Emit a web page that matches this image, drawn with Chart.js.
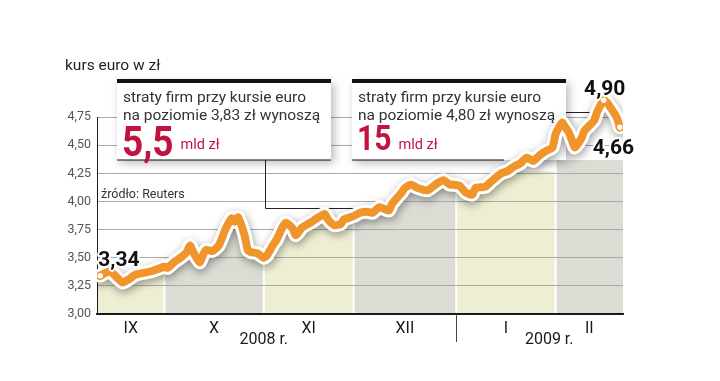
<!DOCTYPE html>
<html lang="pl">
<head>
<meta charset="utf-8">
<title>kurs euro w zł</title>
<script src="https://cdn.jsdelivr.net/npm/chart.js@4.4.1/dist/chart.umd.min.js"></script>
<style>
  html, body { margin: 0; padding: 0; background: #fff; }
  canvas { display: block; }
</style>
</head>
<body>
<canvas id="euro-chart" width="720" height="381"></canvas>
<script>
// ── Data ─────────────────────────────────────────────────────────────────────

// days counted from 10 Sep 2008
const DAYS = [
  1, 4, 6, 8, 10, 12, 17, 21, 22, 24, 26, 28, 29, 30, 32, 33, 34, 36, 38, 40,
  42, 43, 44, 46, 47, 48, 50, 52, 53, 55, 56, 58, 59, 61, 62, 64, 67, 68, 71, 72,
  74, 76, 77, 80, 82, 84, 86, 88, 91, 92, 95, 96, 98, 100, 103, 106, 108, 110, 111, 113,
  115, 117, 118, 121, 123, 126, 128, 130, 132, 134, 136, 138, 140, 142, 143, 145, 146, 147, 148, 149,
  151, 152, 153, 155, 156, 158, 159, 160, 162, 163,
];

const EUR_PLN = [
  3.34, 3.38, 3.33, 3.28, 3.31, 3.35, 3.38, 3.42, 3.41, 3.46, 3.50, 3.55, 3.61, 3.55, 3.46, 3.52, 3.57, 3.56, 3.61, 3.75,
  3.85, 3.82, 3.86, 3.70, 3.57, 3.55, 3.54, 3.50, 3.52, 3.62, 3.66, 3.78, 3.81, 3.76, 3.70, 3.77, 3.82, 3.84, 3.89, 3.84,
  3.79, 3.80, 3.84, 3.87, 3.90, 3.91, 3.90, 3.95, 3.92, 3.98, 4.08, 4.12, 4.15, 4.12, 4.10, 4.16, 4.19, 4.15, 4.15, 4.14,
  4.08, 4.06, 4.12, 4.13, 4.18, 4.25, 4.27, 4.31, 4.34, 4.39, 4.36, 4.41, 4.45, 4.48, 4.60, 4.70, 4.66, 4.62, 4.55, 4.48,
  4.56, 4.63, 4.66, 4.72, 4.80, 4.90, 4.88, 4.84, 4.75, 4.66,
];

const MONTH_LABELS = ['IX', 'X', 'XI', 'XII', 'I', 'II'];
const MONTH_EDGES  = [0, 21, 52, 80, 112, 143, 164];
const BAND_CAPS    = [5, 5, 5, 5, 4.27, 4.37];   // band fill never goes above these

const YEAR_LABELS  = ['2008 r.', '2009 r.'];
const YEAR_POS     = [52, 141];
const YEAR_SPLIT   = 112;

const Y_MIN = 3.0, Y_MAX = 5.0, Y_STEP = 0.25, Y_TOP_TICK = 4.75;

const CALLOUTS = [
  { lines: ['straty firm przy kursie euro', 'na poziomie 3,83 zł wynoszą'], big: '5,5', unit: 'mld zł' },
  { lines: ['straty firm przy kursie euro', 'na poziomie 4,80 zł wynoszą'], big: '15',  unit: 'mld zł' },
];

// ── Colours ──────────────────────────────────────────────────────────────────

const ORANGE  = '#f0952b';
const CRIMSON = '#c2133f';
const BANDS   = ['#eeeed3', '#dcdcd5'];
const GRID    = '#a9a9a9';
const INK     = '#1a1a1a';

const FONT = 'Roboto, "Noto Sans", sans-serif';

// ── Helpers ──────────────────────────────────────────────────────────────────

const fmt = v => v.toFixed(2).replace('.', ',');
const peakIdx = EUR_PLN.indexOf(Math.max(...EUR_PLN));
const lastIdx = EUR_PLN.length - 1;
const markIdx = [0, peakIdx, lastIdx];

function textOutlined(ctx, str, x, y) {
  ctx.lineWidth = 4;
  ctx.strokeStyle = '#fff';
  ctx.lineJoin = 'round';
  ctx.strokeText(str, x, y);
  ctx.fillText(str, x, y);
}

// ── Plugins ──────────────────────────────────────────────────────────────────

// month bands filled below the line, under the grid
const bandsPlugin = {
  id: 'bands',
  beforeDraw(chart) {
    const { ctx, chartArea: a, scales: { x, y } } = chart;
    const pts = chart.getDatasetMeta(0).data;
    if (!pts.length) return;
    for (let i = 0; i < MONTH_EDGES.length - 1; i++) {
      const x0 = x.getPixelForValue(MONTH_EDGES[i]) + (i > 0 ? 1 : 0);
      const x1 = x.getPixelForValue(MONTH_EDGES[i + 1]) - (i < MONTH_EDGES.length - 2 ? 1 : 0);
      const top = y.getPixelForValue(BAND_CAPS[i]);
      ctx.save();
      ctx.beginPath();
      ctx.rect(x0, top, x1 - x0, a.bottom - top);
      ctx.clip();
      ctx.beginPath();
      ctx.moveTo(a.left, a.bottom);
      ctx.lineTo(a.left, pts[0].y);
      pts.forEach(p => ctx.lineTo(p.x, p.y));
      ctx.lineTo(a.right, pts[pts.length - 1].y);
      ctx.lineTo(a.right, a.bottom);
      ctx.closePath();
      ctx.fillStyle = BANDS[i % 2];
      ctx.fill();
      ctx.restore();
    }
  },
};

// callout boxes, axis line, captions (above grid, below the line)
const decorPlugin = {
  id: 'decor',
  beforeDatasetsDraw(chart) {
    const { ctx, chartArea: a, scales: { x, y } } = chart;
    ctx.save();

    // y axis line up to the last tick
    ctx.strokeStyle = INK;
    ctx.lineWidth = 1;
    ctx.beginPath();
    ctx.moveTo(a.left + 0.5, y.getPixelForValue(Y_TOP_TICK));
    ctx.lineTo(a.left + 0.5, a.bottom);
    ctx.stroke();

    // year divider + year captions
    const xs = Math.round(x.getPixelForValue(YEAR_SPLIT)) + 0.5;
    ctx.strokeStyle = '#444';
    ctx.beginPath();
    ctx.moveTo(xs, a.bottom);
    ctx.lineTo(xs, a.bottom + 28);
    ctx.stroke();

    ctx.fillStyle = INK;
    ctx.font = `16px ${FONT}`;
    ctx.textAlign = 'center';
    ctx.textBaseline = 'alphabetic';
    YEAR_LABELS.forEach((t, i) => ctx.fillText(t, x.getPixelForValue(YEAR_POS[i]), a.bottom + 30));

    // title + source
    ctx.textAlign = 'left';
    ctx.font = `15.5px ${FONT}`;
    ctx.fillStyle = '#222';
    ctx.fillText('kurs euro w zł', 65, 70);
    ctx.font = `12.5px ${FONT}`;
    ctx.fillStyle = '#333';
    ctx.fillText('źródło: Reuters', 101, 198);

    // connectors
    ctx.strokeStyle = '#222';
    ctx.lineWidth = 1;
    ctx.beginPath();
    ctx.moveTo(265.5, 160);
    ctx.lineTo(265.5, 208.5);
    ctx.lineTo(394, 208.5);
    const y480 = Math.round(y.getPixelForValue(4.80)) + 0.5;
    ctx.moveTo(566, y480);
    ctx.lineTo(597, y480);
    ctx.stroke();

    // boxes
    const boxes = [{ x: 117, w: 214, bottomTo: 331 }, { x: 352, w: 214, bottomTo: 504 }];
    boxes.forEach((b, i) => {
      const c = CALLOUTS[i];
      ctx.save();
      ctx.shadowColor = 'rgba(0,0,0,0.28)';
      ctx.shadowBlur = 9;
      ctx.shadowOffsetX = 3;
      ctx.shadowOffsetY = 3;
      ctx.fillStyle = '#fff';
      ctx.fillRect(b.x, 80, b.w, 80);
      ctx.restore();

      ctx.fillStyle = '#111';
      ctx.fillRect(b.x, 79, b.w, 4);
      ctx.fillRect(b.x, 159.5, b.bottomTo - b.x, 1);

      ctx.fillStyle = '#333';
      ctx.font = `15.5px ${FONT}`;
      ctx.fillText(c.lines[0], b.x + 6, 102);
      ctx.fillText(c.lines[1], b.x + 6, 120);

      ctx.fillStyle = CRIMSON;
      ctx.save();
      ctx.translate(b.x + 5, i === 0 ? 156 : 150);
      ctx.scale(0.86, 1);
      ctx.font = `bold ${i === 0 ? 43 : 35}px ${FONT}`;
      ctx.fillText(c.big, 0, 0);
      const bw = ctx.measureText(c.big).width * 0.86;
      ctx.restore();
      ctx.font = `14.5px ${FONT}`;
      ctx.fillText(c.unit, b.x + 5 + bw + 7, 149);
    });

    ctx.restore();
  },

  beforeDatasetDraw(chart, args) {
    if (args.index !== 1) return;
    const ctx = chart.ctx;
    ctx.save();
    ctx.shadowColor = 'rgba(0,0,0,0.38)';
    ctx.shadowBlur = 8;
    ctx.shadowOffsetX = 1;
    ctx.shadowOffsetY = 3;
  },

  afterDatasetDraw(chart, args) {
    if (args.index !== 1) return;
    chart.ctx.restore();
  },

  // value labels on the first, highest and last point
  afterDatasetsDraw(chart) {
    const { ctx } = chart;
    const pts = chart.getDatasetMeta(0).data;
    ctx.save();
    ctx.fillStyle = '#111';
    ctx.font = `bold 21px ${FONT}`;
    ctx.textBaseline = 'alphabetic';

    ctx.textAlign = 'left';
    let p = pts[0];
    textOutlined(ctx, fmt(EUR_PLN[0]), p.x - 2, p.y - 10);

    ctx.textAlign = 'center';
    p = pts[peakIdx];
    textOutlined(ctx, fmt(EUR_PLN[peakIdx]), p.x + 1, p.y - 5);

    ctx.textAlign = 'left';
    p = pts[lastIdx];
    textOutlined(ctx, fmt(EUR_PLN[lastIdx]), p.x - 27, p.y + 27);
    ctx.restore();
  },
};

// ── Chart ────────────────────────────────────────────────────────────────────

const points = DAYS.map((d, i) => ({ x: d, y: EUR_PLN[i] }));

new Chart(document.getElementById('euro-chart'), {
  type: 'line',
  data: {
    datasets: [
      {
        label: 'kurs euro',
        data: points,
        borderColor: ORANGE,
        borderWidth: 8,
        tension: 0.2,
        borderCapStyle: 'round',
        borderJoinStyle: 'round',
        pointRadius: c => (markIdx.includes(c.dataIndex) ? 3.5 : 0),
        pointBackgroundColor: '#fff',
        pointBorderColor: ORANGE,
        pointBorderWidth: 1.5,
        fill: false,
      },
      {
        label: 'halo',
        data: points,
        borderColor: '#fff',
        borderWidth: 14,
        tension: 0.2,
        borderCapStyle: 'round',
        borderJoinStyle: 'round',
        pointRadius: 0,
        fill: false,
      },
    ],
  },
  options: {
    responsive: false,
    animation: false,
    devicePixelRatio: 1,
    layout: { padding: { left: 0, top: 89, right: 97, bottom: 37 } },
    plugins: {
      legend: { display: false },
      tooltip: { enabled: false },
    },
    scales: {
      x: {
        type: 'linear',
        min: MONTH_EDGES[0],
        max: MONTH_EDGES[MONTH_EDGES.length - 1],
        afterFit: s => { s.height = 30; },
        afterBuildTicks: s => {
          s.ticks = MONTH_LABELS.map((_, i) => ({ value: (MONTH_EDGES[i] + MONTH_EDGES[i + 1]) / 2 }));
        },
        grid: { color: 'rgba(0,0,0,0)', drawTicks: false },
        border: { display: true, color: INK, width: 2 },
        ticks: {
          autoSkip: false,
          maxRotation: 0,
          padding: 5,
          color: INK,
          font: { family: FONT, size: 16 },
          callback: (v, i) => MONTH_LABELS[i],
        },
      },
      y: {
        min: Y_MIN,
        max: Y_MAX,
        afterFit: s => { s.width = 97; },
        afterBuildTicks: s => { s.ticks = s.ticks.filter(t => t.value <= Y_TOP_TICK + 1e-9); },
        grid: { color: GRID, lineWidth: 1, drawTicks: false },
        border: { display: false },
        ticks: {
          stepSize: Y_STEP,
          padding: 6,
          color: '#555',
          font: { family: FONT, size: 12.5 },
          callback: v => fmt(v),
        },
      },
    },
  },
  plugins: [bandsPlugin, decorPlugin],
});
</script>
</body>
</html>
